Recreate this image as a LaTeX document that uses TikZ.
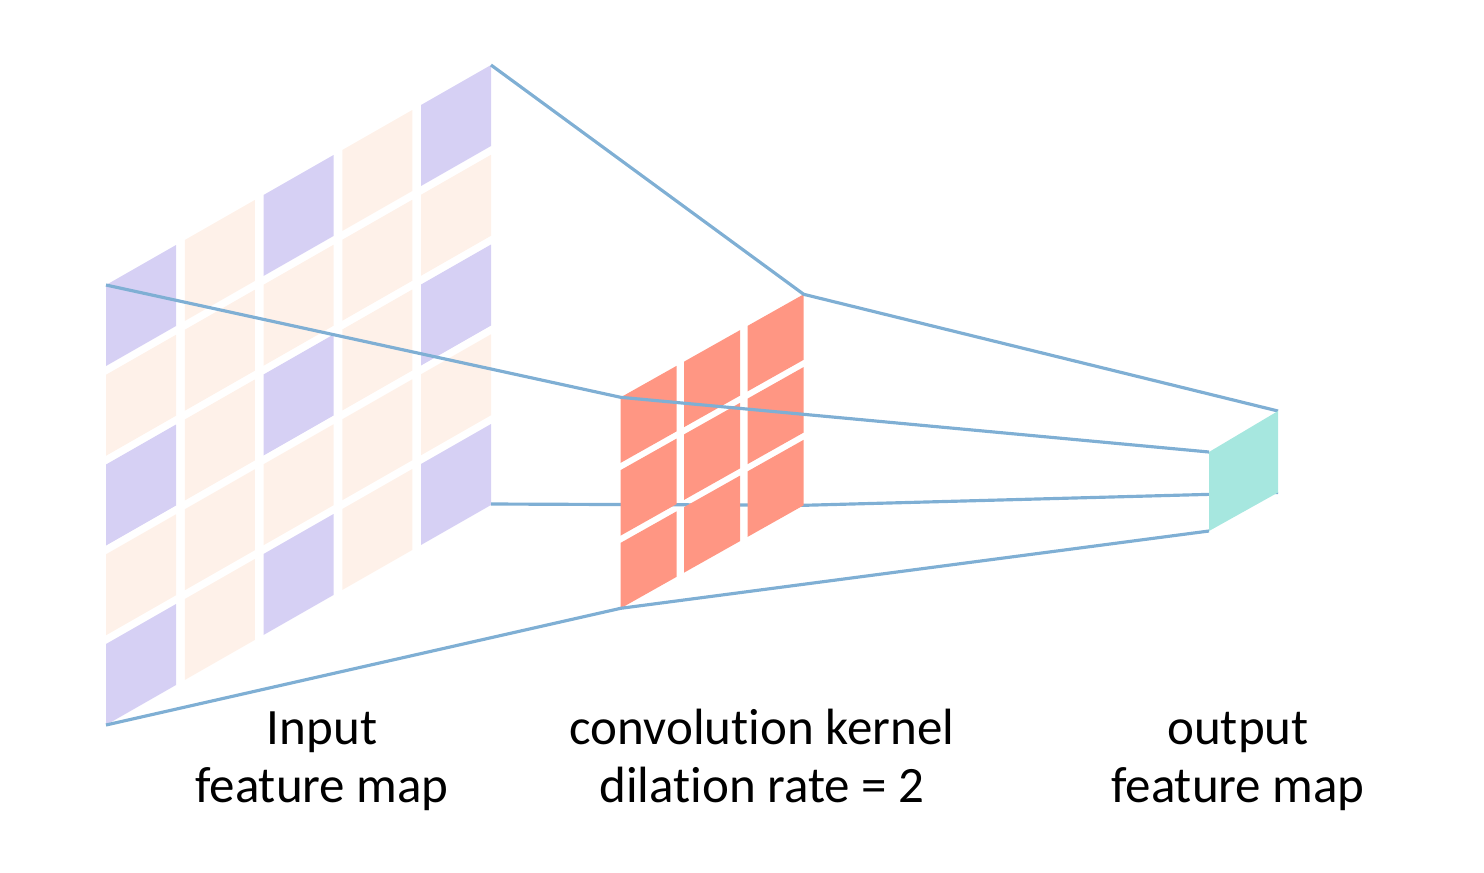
\documentclass[tikz,border=0pt]{standalone}
\usepackage{fontspec}
\setmainfont{Carlito}[Ligatures=NoCommon]
\definecolor{dilated}{HTML}{D6D0F4}
\definecolor{skipped}{HTML}{FEF1E9}
\definecolor{kernelcol}{HTML}{FF9683}
\definecolor{outcol}{HTML}{A6E7DF}
\definecolor{linkblue}{HTML}{7FAFD4}
\begin{document}
\begin{tikzpicture}[x=0.01cm,y=-0.01cm,
  link/.style={draw=linkblue, line width=0.9pt, line join=round},
  caption/.style={align=center, font=\fontsize{14.5}{16.4}\selectfont, inner sep=0pt, anchor=base}]
\useasboundingbox (0,0) rectangle (1484,872);

% input feature map: 5x5 sheared cells, sampled cells in lavender
\foreach \c in {0,...,4}{
  \foreach \r in {0,...,4}{
    \pgfmathsetmacro\xa{106+\c*78.75}
    \pgfmathsetmacro\xb{\xa+70}
    \pgfmathsetmacro\ya{285+\r*89.75-0.5714*(\xa-106)}
    \pgfmathsetmacro\yb{285+\r*89.75-0.5714*(\xb-106)}
    \pgfmathtruncatemacro\odd{mod(\c,2)+mod(\r,2)}
    \ifnum\odd=0 \def\cellcol{dilated}\else\def\cellcol{skipped}\fi
    \fill[\cellcol] (\xa,\ya) -- (\xb,\yb) -- (\xb,\yb+81) -- (\xa,\ya+81) -- cycle;
  }
}
\coordinate (inTL) at (106,285);
\coordinate (inTR) at (491,65);
\coordinate (inBR) at (491,504);
\coordinate (inBL) at (106,725);

% kernel corners
\coordinate (kTL) at (620.7,397.3);
\coordinate (kTR) at (803.7,294.3);
\coordinate (kBR) at (803.7,505.3);
\coordinate (kBL) at (620.7,608.3);

% output corners
\coordinate (outTL) at (1209,452);
\coordinate (outTR) at (1278,411);
\coordinate (outBR) at (1278,492.5);
\coordinate (outBL) at (1209,531);

% projection line running behind the kernel
\draw[link] (inBR) -- (kBR) -- (outBR);

% convolution kernel: 3x3 cells
\foreach \c in {0,...,2}{
  \foreach \r in {0,...,2}{
    \pgfmathsetmacro\xa{620.7+\c*63.5}
    \pgfmathsetmacro\xb{\xa+56}
    \pgfmathsetmacro\ya{397.3+\r*72.75-0.563*(\xa-620.7)}
    \pgfmathsetmacro\yb{397.3+\r*72.75-0.563*(\xb-620.7)}
    \fill[kernelcol] (\xa,\ya) -- (\xb,\yb) -- (\xb,\yb+65.5) -- (\xa,\ya+65.5) -- cycle;
  }
}

% remaining projection lines
\draw[link] (inTR) -- (kTR) -- (outTR);
\draw[link] (inTL) -- (kTL) -- (outTL);
\draw[link] (inBL) -- (kBL) -- (outBL);

% output cell
\fill[outcol] (outTL) -- (outTR) -- (outBR) -- (outBL) -- cycle;

% captions (anchored on the baseline of their last line)
\node[caption] (inlabel) at (322,802) {Input\\feature map};
\node[caption] (klabel) at (762,802) {convolution kernel\\dilation rate = 2};
\node[caption] (outlabel) at (1238,802) {output\\feature map};
\end{tikzpicture}
\end{document}
